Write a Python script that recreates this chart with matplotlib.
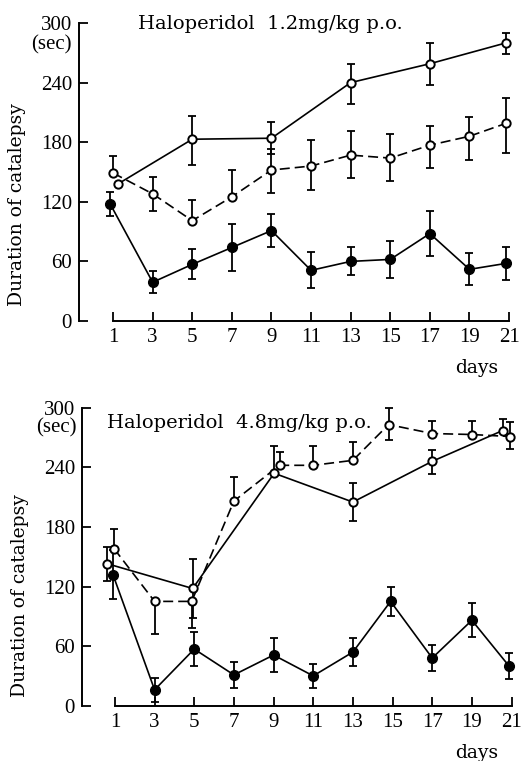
import matplotlib
matplotlib.use("Agg")
import matplotlib.pyplot as plt

# ---------------- data: Haloperidol 1.2 mg/kg ----------------
top_title = "Haloperidol  1.2mg/kg p.o."
top_fill_days = [0.85, 3, 5, 7, 9, 11, 13, 15, 17, 19, 20.85]
top_fill_vals = [118, 39, 57, 74, 91, 51, 60, 62, 88, 52, 58]
top_fill_err = [12, 11, 15, 24, 17, 18, 14, 19, 23, 16, 17]

top_solid_days = [1.25, 5, 9, 13, 17, 20.85]
top_solid_vals = [138, 183, 184, 240, 259, 280]
top_solid_lo = [0, 26, 16, 22, 21, 11]
top_solid_hi = [0, 23, 16, 19, 21, 10]

top_dash_days = [1, 3, 5, 7, 9, 11, 13, 15, 17, 19, 20.85]
top_dash_vals = [149, 128, 101, 125, 152, 156, 167, 164, 177, 186, 199]
top_dash_lo = [0, 17, 0, 0, 23, 24, 23, 23, 23, 24, 30]
top_dash_hi = [17, 17, 21, 27, 21, 26, 24, 24, 19, 19, 25]

# ---------------- data: Haloperidol 4.8 mg/kg ----------------
bot_title = "Haloperidol  4.8mg/kg p.o."
bot_fill_days = [0.9, 3, 5, 7, 9, 11, 13, 14.9, 17, 19, 20.87]
bot_fill_vals = [132, 16, 57, 31, 51, 30, 54, 105, 48, 86, 40]
bot_fill_err = [25, 12, 17, 13, 17, 12, 14, 15, 13, 17, 13]

bot_solid_days = [0.6, 4.92, 9.03, 13, 17, 20.55]
bot_solid_vals = [143, 118, 234, 205, 246, 277]
bot_solid_lo = [17, 30, 0, 19, 13, 0]
bot_solid_hi = [17, 30, 27, 19, 11, 12]

bot_dash_days = [0.96, 3, 4.87, 7, 9.3, 11, 13, 14.8, 17, 19, 20.92]
bot_dash_vals = [158, 105, 105, 206, 242, 242, 247, 283, 274, 273, 271]
bot_dash_lo = [0, 33, 27, 0, 0, 0, 0, 16, 0, 0, 13]
bot_dash_hi = [20, 0, 0, 24, 13, 19, 18, 17, 13, 14, 15]

x_ticks = [1, 3, 5, 7, 9, 11, 13, 15, 17, 19, 21]
y_ticks = [0, 60, 120, 180, 240, 300]
y_label = "Duration of catalepsy"
x_label = "days"
unit_label = "(sec)"

NUM_FONT = "Liberation Serif"
TXT_FONT = "DejaVu Serif"
LW = 1.2

fig = plt.figure(figsize=(5.25, 7.61), dpi=100)


def draw_panel(ax, xlim, title, title_xy, sec_xy, days_xy,
               fill, solid, dash):
    ax.set_xlim(*xlim)
    ax.set_ylim(0, 300)
    for s in ("top", "right"):
        ax.spines[s].set_visible(False)
    ax.spines["left"].set_bounds(0, 300)
    ax.spines["bottom"].set_bounds(1, 21)
    for s in ("left", "bottom"):
        ax.spines[s].set_linewidth(1.4)
    ax.set_xticks(x_ticks)
    ax.set_yticks(y_ticks)
    ax.tick_params(axis="both", direction="in", length=6.5, width=1.3,
                   labelsize=15)
    ax.tick_params(axis="y", pad=5)
    ax.tick_params(axis="x", pad=5)
    for lab in ax.get_xticklabels() + ax.get_yticklabels():
        lab.set_fontfamily(NUM_FONT)

    fd, fv, fe = fill
    sd, sv, slo, shi = solid
    dd, dv, dlo, dhi = dash

    ebkw = dict(fmt="none", ecolor="black", elinewidth=1.3, capsize=3,
                capthick=1.3, zorder=2, clip_on=False)
    ax.errorbar(fd, fv, yerr=fe, **ebkw)
    ax.errorbar(sd, sv, yerr=[slo, shi], **ebkw)
    ax.errorbar(dd, dv, yerr=[dlo, dhi], **ebkw)

    ax.plot(dd, dv, color="black", lw=LW, linestyle=(0, (6, 3)),
            marker="o", markersize=6, markerfacecolor="white",
            markeredgecolor="black", markeredgewidth=1.4, zorder=3,
            clip_on=False)
    ax.plot(sd, sv, color="black", lw=LW, linestyle="-",
            marker="o", markersize=6, markerfacecolor="white",
            markeredgecolor="black", markeredgewidth=1.4, zorder=3,
            clip_on=False)
    ax.plot(fd, fv, color="black", lw=LW, linestyle="-",
            marker="o", markersize=7, markerfacecolor="black",
            markeredgecolor="black", zorder=4, clip_on=False)

    ax.text(title_xy[0], title_xy[1], title, fontsize=14,
            family=TXT_FONT, ha="left", va="baseline", clip_on=False)
    ax.text(sec_xy[0], sec_xy[1], unit_label, fontsize=15,
            family=NUM_FONT, ha="right", va="center", clip_on=False)
    ax.text(days_xy[0], days_xy[1], x_label, fontsize=13.5,
            family=TXT_FONT, ha="right", va="center", clip_on=False)


ax1 = fig.add_axes([79 / 525, (761 - 321) / 761, 436 / 525, 298 / 761])
draw_panel(ax1, (-0.72, 21.3), top_title, (2.26, 294), (-1.07, 278),
           (20.44, -47),
           (top_fill_days, top_fill_vals, top_fill_err),
           (top_solid_days, top_solid_vals, top_solid_lo, top_solid_hi),
           (top_dash_days, top_dash_vals, top_dash_lo, top_dash_hi))

ax2 = fig.add_axes([82 / 525, (761 - 705.7) / 761, 435.5 / 525, 298 / 761])
draw_panel(ax2, (-0.66, 21.3), bot_title, (0.6, 279.5), (-0.92, 279.7),
           (20.31, -47.6),
           (bot_fill_days, bot_fill_vals, bot_fill_err),
           (bot_solid_days, bot_solid_vals, bot_solid_lo, bot_solid_hi),
           (bot_dash_days, bot_dash_vals, bot_dash_lo, bot_dash_hi))

fig.text(17.5 / 525, 1 - 205 / 761, y_label, rotation=90, fontsize=13.5,
         family=TXT_FONT, ha="center", va="center")
fig.text(20.5 / 525, 1 - 596 / 761, y_label, rotation=90, fontsize=13.5,
         family=TXT_FONT, ha="center", va="center")

fig.savefig("out.png", dpi=100)
